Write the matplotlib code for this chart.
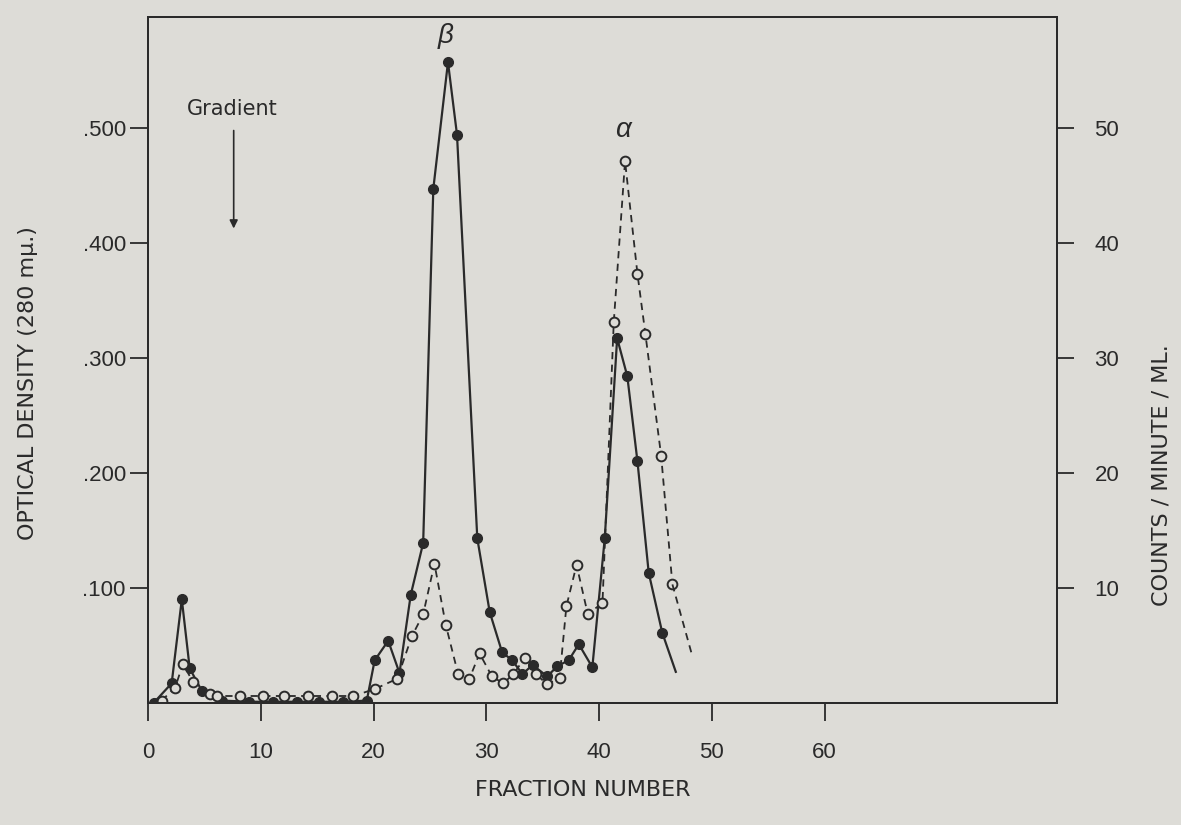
import matplotlib.pyplot as plt

# optical density (filled circles, solid line)
od_frac = [0.5, 2.1, 3.0, 3.7, 4.8, 6.6, 9.0, 11.1, 13.2, 15.2, 17.3, 19.4,
           20.1, 21.3, 22.3, 23.3, 24.4, 25.3, 26.6, 27.4, 29.2, 30.3, 31.4,
           32.3, 33.2, 34.1, 35.4, 36.3, 37.3, 38.2, 39.4, 40.5, 41.6, 42.5,
           43.4, 44.4, 45.6]
od_val = [0.0, 0.017, 0.090, 0.030, 0.010, 0.002, 0.001, 0.001, 0.001, 0.001,
          0.001, 0.002, 0.037, 0.054, 0.026, 0.094, 0.139, 0.447, 0.557, 0.494,
          0.143, 0.079, 0.044, 0.037, 0.025, 0.033, 0.023, 0.032, 0.037, 0.051,
          0.031, 0.143, 0.317, 0.284, 0.210, 0.113, 0.061]
od_tail_frac = [45.6, 46.8]
od_tail_val = [0.061, 0.027]

# counts / minute / ml (open circles, dashed line)
cpm_frac = [1.2, 2.4, 3.1, 4.0, 5.5, 6.1, 8.2, 10.2, 12.1, 14.2, 16.3, 18.2,
            20.1, 22.1, 23.4, 24.4, 25.4, 26.4, 27.5, 28.5, 29.4, 30.5, 31.5,
            32.4, 33.4, 34.4, 35.4, 36.5, 37.1, 38.0, 39.0, 40.3, 41.3, 42.3,
            43.4, 44.1, 45.5, 46.5]
cpm_val = [0.2, 1.3, 3.4, 1.8, 0.8, 0.6, 0.6, 0.6, 0.6, 0.6, 0.6, 0.6, 1.2,
           2.1, 5.8, 7.7, 12.1, 6.8, 2.5, 2.1, 4.3, 2.3, 1.7, 2.5, 3.9, 2.5,
           1.6, 2.2, 8.4, 12.0, 7.7, 8.7, 33.1, 47.1, 37.3, 32.1, 21.5, 10.3]
cpm_tail_frac = [46.5, 48.2]
cpm_tail_val = [10.3, 4.3]

bg = "#dddcd7"
ink = "#2a2a2a"
plt.rcParams["font.family"] = ["Liberation Sans", "DejaVu Sans"]
wide = ["DejaVu Sans"]

fig = plt.figure(figsize=(11.81, 8.25), dpi=100, facecolor=bg)
ax = fig.add_axes([0.1253, 0.148, 0.7697, 0.831], facecolor=bg)
ax2 = ax.twinx()

ax.plot(od_frac, od_val, "-", color=ink, lw=1.6, marker="o", ms=7,
        mfc=ink, mec=ink, zorder=3)
ax.plot(od_tail_frac, od_tail_val, "-", color=ink, lw=1.6)

ax2.plot(cpm_frac, cpm_val, color=ink, lw=1.3, ls=(0, (4, 3)), marker="o",
         ms=7, mfc=bg, mec=ink, mew=1.4, zorder=2)
ax2.plot(cpm_tail_frac, cpm_tail_val, color=ink, lw=1.3, ls=(0, (4, 3)))

ax.set_xlim(0, 80.6)
ax.set_ylim(0, 0.596)
ax2.set_ylim(0, 59.6)

ax.set_xticks([0, 10, 20, 30, 40, 50, 60])
ax.set_xticklabels(["0", "10", "20", "30", "40", "50", "60"])
ax.set_yticks([0.1, 0.2, 0.3, 0.4, 0.5])
ax.set_yticklabels([".100", ".200", ".300", ".400", ".500"])
ax2.set_yticks([10, 20, 30, 40, 50])

for a in (ax, ax2):
    for s in a.spines.values():
        s.set_color(ink)
        s.set_linewidth(1.4)
ax.tick_params(axis="y", direction="out", length=13, width=1.3,
               colors=ink, labelsize=16, pad=3)
ax.tick_params(axis="x", direction="out", length=13, width=1.3,
               colors=ink, labelsize=16, pad=15)
ax2.tick_params(axis="y", direction="out", length=12, width=1.3,
                colors=ink, labelsize=16, pad=15)

ax.set_xlabel("FRACTION NUMBER", fontsize=16, color=ink, family=wide)
ax.xaxis.set_label_coords(0.478, -0.112)
ax.set_ylabel("OPTICAL DENSITY (280 m\u03bc.)", fontsize=16, color=ink,
              family=wide)
ax.yaxis.set_label_coords(-0.121, 0.466)
ax2.set_ylabel("COUNTS / MINUTE / ML.", fontsize=16, color=ink, family=wide)
ax2.yaxis.set_label_coords(1.104, 0.332)

ax.text(26.4, 0.58, "\u03b2", fontsize=20, style="italic", color=ink,
        ha="center", va="center")
ax2.text(42.1, 49.8, "\u03b1", fontsize=20, style="italic", color=ink,
         ha="center", va="center")

ax.text(7.5, 0.508, "Gradient", fontsize=15, color=ink, ha="center",
        va="bottom", family=wide)
ax.annotate("", xy=(7.6, 0.41), xytext=(7.6, 0.5),
            arrowprops=dict(arrowstyle="-|>", color=ink, lw=1.2,
                            mutation_scale=12))

fig.savefig("out.png", dpi=100, facecolor=bg)
